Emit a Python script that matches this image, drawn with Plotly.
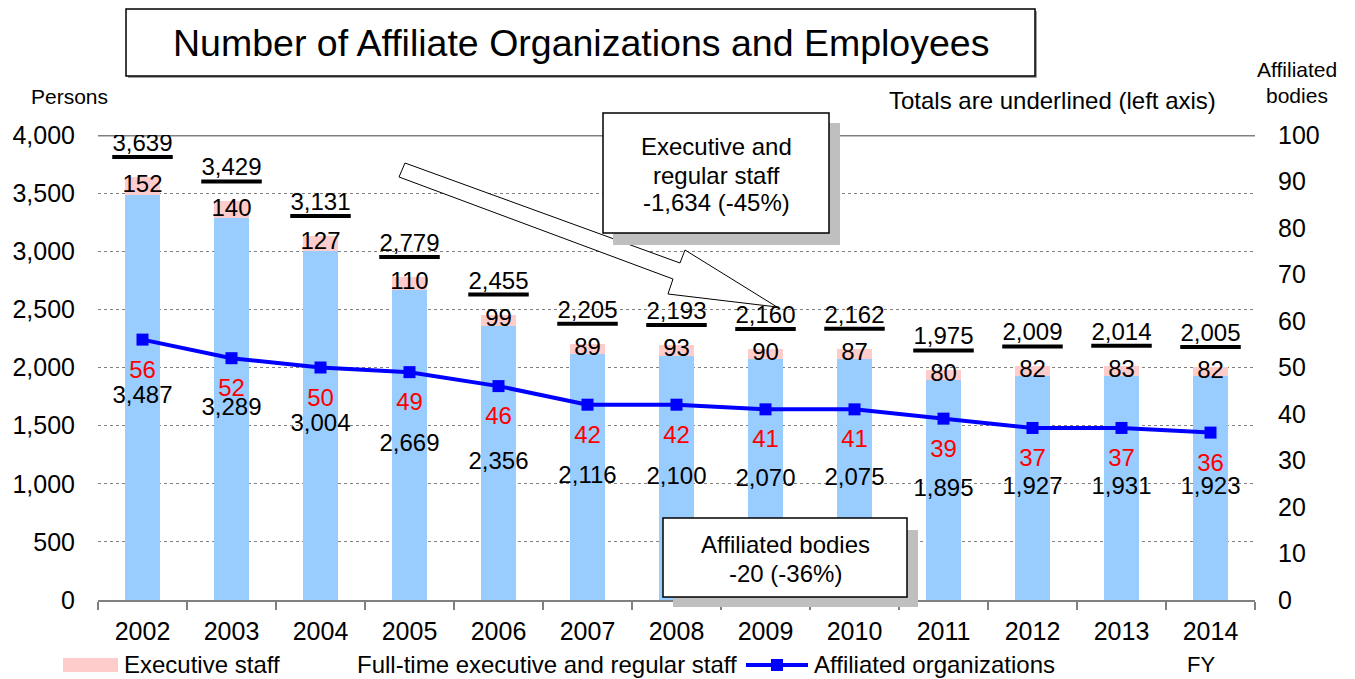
import plotly.graph_objects as go

# ---------------- data ----------------
years = ["2002", "2003", "2004", "2005", "2006", "2007", "2008",
         "2009", "2010", "2011", "2012", "2013", "2014"]
regular_staff = [3487, 3289, 3004, 2669, 2356, 2116, 2100, 2070, 2075, 1895, 1927, 1931, 1923]
executive_staff = [152, 140, 127, 110, 99, 89, 93, 90, 87, 80, 82, 83, 82]
affiliated_orgs = [56, 52, 50, 49, 46, 42, 42, 41, 41, 39, 37, 37, 36]
left_ticks = [0, 500, 1000, 1500, 2000, 2500, 3000, 3500, 4000]
right_ticks = [0, 10, 20, 30, 40, 50, 60, 70, 80, 90, 100]

title_text = "Number of Affiliate Organizations and Employees"
callout_staff = ["Executive and", "regular staff", "-1,634 (-45%)"]
callout_bodies = ["Affiliated bodies", "-20 (-36%)"]

# ---------------- geometry (screen pixels) ----------------
W, H = 1355, 679
OFF = 8                                  # page body margin
L, R, T, B = 98, 1255, 135, 600          # plot area on screen
YMAX, Y2MAX = 4000, 100
PXY = YMAX / (B - T)                     # left-axis units per pixel
PXY2 = Y2MAX / (B - T)


def px(x, y):
    """screen pixel -> paper coordinates"""
    return (x - L) / (R - L), (B - y) / (B - T)


FONT = "Liberation Sans, Arial, sans-serif"
idx = list(range(len(years)))
totals = [r + e for r, e in zip(regular_staff, executive_staff)]

fig = go.Figure()

# bars
fig.add_trace(go.Bar(x=idx, y=regular_staff, width=0.39, marker_color="#99CCFF",
                     marker_line_width=0, name="Full-time executive and regular staff",
                     showlegend=False, yaxis="y"))
fig.add_trace(go.Bar(x=idx, y=executive_staff, width=0.39, marker_color="#FFCCCC",
                     marker_line_width=0, name="Executive staff", showlegend=False, yaxis="y"))

# labels on bars
fig.add_trace(go.Scatter(x=idx, y=[r / 2 for r in regular_staff], mode="text",
                         text=[f"{v:,}" for v in regular_staff],
                         textfont=dict(size=24, color="black", family=FONT),
                         showlegend=False, hoverinfo="skip"))
fig.add_trace(go.Scatter(x=idx, y=[r + e / 2 for r, e in zip(regular_staff, executive_staff)],
                         mode="text", text=[str(v) for v in executive_staff],
                         textfont=dict(size=24, color="black", family=FONT),
                         showlegend=False, hoverinfo="skip"))
fig.add_trace(go.Scatter(x=idx, y=[t + 32 * PXY for t in totals], mode="text",
                         text=[f"{v:,}" for v in totals],
                         textfont=dict(size=24, color="black", family=FONT),
                         showlegend=False, hoverinfo="skip"))
# underlines of totals
ux, uy = [], []
for i, t in zip(idx, totals):
    ux += [i - 0.34, i + 0.34, None]
    uy += [t + 20 * PXY, t + 20 * PXY, None]
fig.add_trace(go.Scatter(x=ux, y=uy, mode="lines", line=dict(color="black", width=4),
                         showlegend=False, hoverinfo="skip"))

# affiliated organizations line
fig.add_trace(go.Scatter(x=idx, y=affiliated_orgs, yaxis="y2", mode="lines+markers",
                         line=dict(color="#0000FF", width=4),
                         marker=dict(symbol="square", size=12, color="#0000FF"),
                         name="Affiliated organizations", showlegend=False))
fig.add_trace(go.Scatter(x=idx, y=[a - 32 * PXY2 for a in affiliated_orgs], yaxis="y2",
                         mode="text", text=[str(v) for v in affiliated_orgs],
                         textfont=dict(size=24, color="#FF0000", family=FONT),
                         showlegend=False, hoverinfo="skip"))

shapes = []
annotations = []


def rect(x0, y0, x1, y1, fill, line_color=None, lw=0):
    a = px(x0, y1)
    b = px(x1, y0)
    shapes.append(dict(type="rect", xref="paper", yref="paper", x0=a[0], y0=a[1], x1=b[0], y1=b[1],
                       fillcolor=fill, line=dict(color=line_color or fill, width=lw), layer="above"))


def text(x, y, s, size=24, anchor="center", color="black"):
    p = px(x, y)
    annotations.append(dict(xref="paper", yref="paper", x=p[0], y=p[1], text=s, showarrow=False,
                            xanchor=anchor, yanchor="middle",
                            font=dict(size=size, color=color, family=FONT)))


# top solid line of plot area
shapes.append(dict(type="line", xref="paper", yref="y", x0=0, x1=1, y0=YMAX, y1=YMAX,
                   line=dict(color="#808080", width=3), layer="below"))

# title box
rect(128, 11, 1037, 78, "#A0A0A0")
rect(126, 9, 1035, 76, "white", "black", 1.5)
text(581, 43, title_text, size=37.5)

# block arrow
pts = [(405, 163), (680, 263), (685, 250), (777, 307), (668, 294), (673, 279), (399, 177)]
path = "M " + " L ".join(f"{px(x, y)[0]:.5f},{px(x, y)[1]:.5f}" for x, y in pts) + " Z"
shapes.append(dict(type="path", xref="paper", yref="paper", path=path, fillcolor="white",
                   line=dict(color="black", width=1), layer="above"))

# callout 1
rect(613, 123, 840, 245, "#BFBFBF")
rect(603, 113, 829, 233, "white", "black", 1.5)
for yy, s in zip([147, 175, 202], callout_staff):
    text(716, yy, s, size=24)

# callout 2
rect(673, 530, 918, 607, "#BFBFBF")
rect(663, 518, 907, 597, "white", "black", 1.5)
for yy, s in zip([544, 573], callout_bodies):
    text(785, yy, s, size=24)

# axis captions
text(29, 97, "Persons", size=21, anchor="left")
text(1218, 100, "Totals are underlined (left axis)", size=24, anchor="right")
text(1297, 70, "Affiliated", size=21)
text(1297, 95, "bodies", size=21)

# custom legend
rect(63, 658, 118, 672, "#FFCCCC")
text(122, 665, "Executive staff", size=24, anchor="left")
text(355, 665, "Full-time executive and regular staff", size=24, anchor="left")
a0, a1 = px(746, 665), px(808, 665)
shapes.append(dict(type="line", xref="paper", yref="paper", x0=a0[0], y0=a0[1], x1=a1[0], y1=a1[1],
                   line=dict(color="#0000FF", width=4), layer="above"))
rect(771, 659, 783, 671, "#0000FF")
text(812, 665, "Affiliated organizations", size=24, anchor="left")
text(1185, 665, "FY", size=22, anchor="left")

fig.update_layout(
    width=W - OFF, height=H - OFF,
    margin=dict(l=L - OFF, r=W - R, t=T - OFF, b=H - B, pad=0, autoexpand=False),
    paper_bgcolor="white", plot_bgcolor="white",
    barmode="stack", bargap=0,
    font=dict(family=FONT, size=24, color="black"),
    xaxis=dict(range=[-0.5, len(years) - 0.5], tickvals=idx, ticktext=years,
               ticks="", showgrid=False, zeroline=False, automargin=False,
               showline=True, linecolor="#808080", linewidth=2,
               tickfont=dict(size=25), ticklabelstandoff=8,
               minor=dict(tickvals=[i - 0.5 for i in idx] + [len(years) - 0.5],
                          ticks="outside", ticklen=8, tickcolor="#808080", tickwidth=2,
                          showgrid=False)),
    yaxis=dict(range=[0, YMAX], tickvals=left_ticks, tickformat=",", showgrid=True,
               gridcolor="#808080", griddash="dot", gridwidth=1, zeroline=False,
               automargin=False,
               showline=False, ticks="", tickfont=dict(size=25), ticklabelstandoff=22),
    yaxis2=dict(range=[0, Y2MAX], tickvals=right_ticks, overlaying="y", side="right",
                showgrid=False, zeroline=False, showline=False, ticks="", automargin=False,
                tickfont=dict(size=25), ticklabelstandoff=22),
    shapes=shapes, annotations=annotations, showlegend=False,
)

fig.write_html("out.html")
